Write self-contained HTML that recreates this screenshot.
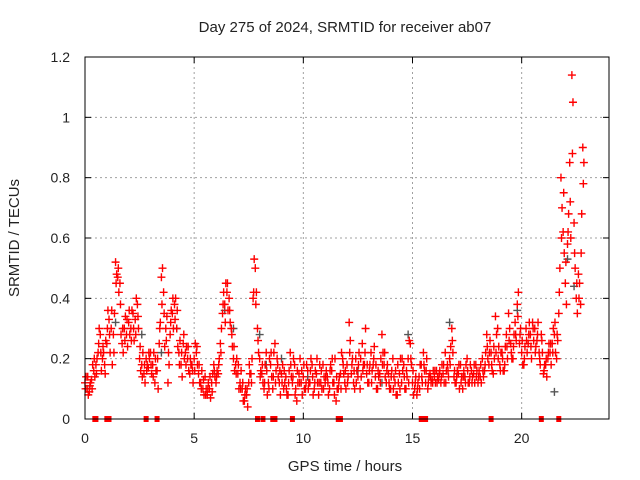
<!DOCTYPE html>
<html><head><meta charset="utf-8"><style>
body{margin:0;background:#fff;}
svg{display:block;font-family:"Liberation Sans",sans-serif;}
</style></head><body>
<svg id="chart" width="640" height="480">
<text x="345" y="32" text-anchor="middle" font-size="15" fill="#222">Day 275 of 2024, SRMTID for receiver ab07</text>
<text x="345" y="471" text-anchor="middle" font-size="15" fill="#222">GPS time / hours</text>
<text transform="translate(19,238) rotate(-90)" text-anchor="middle" font-size="15" fill="#222">SRMTID / TECUs</text>
<g id="grid"></g><g id="marks"></g><g id="axes"></g>
</svg>
<script>
const xTicks=[0,5,10,15,20];
const yTicks=[0,0.2,0.4,0.6,0.8,1,1.2];
const yTickLabels=["0","0.2","0.4","0.6","0.8","1","1.2"];
const hoursA=[0.0,0.1,0.2,0.3,0.4,0.5,0.6,0.7,0.8,0.9,1.0,1.1,1.2,1.3,1.4,1.5,1.6,1.7,1.8,1.9,2.0,2.1,2.2,2.3,2.4,2.5,2.6,2.7,2.8,2.9,3.0,3.1,3.2,3.3,3.4,3.5,3.6,3.7,3.8,3.9,4.0,4.1,4.2,4.3,4.4,4.5,4.6,4.7,4.8,4.9,5.0,5.1,5.2,5.3,5.4,5.5,5.6,5.7,5.8,5.9,6.0,6.1,6.2,6.3,6.4,6.5,6.6,6.7,6.8,6.9,7.0,7.1,7.2,7.3,7.4,7.5,7.6,7.7,7.8,7.9,8.0,8.1,8.2,8.3,8.4,8.5,8.6,8.7,8.8,8.9,9.0,9.1,9.2,9.3,9.4,9.5,9.6,9.7,9.8,9.9,10.0,10.1,10.2,10.3,10.4,10.5,10.6,10.7,10.8,10.9,11.0,11.1,11.2,11.3,11.4,11.5,11.6,11.7,11.8,11.9,12.0,12.1,12.2,12.3,12.4,12.5,12.6,12.7,12.8,12.9,13.0,13.1,13.2,13.3,13.4,13.5,13.6,13.7,13.8,13.9,14.0,14.1,14.2,14.3,14.4,14.5,14.6,14.7,14.8,14.9,15.0,15.1,15.2,15.3,15.4,15.5,15.6,15.7,15.8,15.9,16.0,16.1,16.2,16.3,16.4,16.5,16.6,16.7,16.8,16.9,17.0,17.1,17.2,17.3,17.4,17.5,17.6,17.7,17.8,17.9,18.0,18.1,18.2,18.3,18.4,18.5,18.6,18.7,18.8,18.9,19.0,19.1,19.2,19.3,19.4,19.5,19.6,19.7,19.8,19.9,20.0,20.1,20.2,20.3,20.4,20.5,20.6,20.7,20.8,20.9,21.0,21.1,21.2,21.3,21.4,21.5,21.6,21.7,21.8,21.9,22.0,22.1,22.2,22.3,22.4,22.5,22.6,22.7,22.8];
const valuesA=[0.12,0.10,0.09,0.13,0.16,0.18,0.22,0.28,0.20,0.18,
0.25,0.33,0.30,0.28,0.52,0.47,0.45,0.25,0.30,0.28,
0.32,0.30,0.35,0.33,0.38,0.20,0.18,0.15,0.20,0.17,
0.22,0.18,0.12,0.16,0.25,0.47,0.42,0.30,0.12,0.28,
0.35,0.38,0.30,0.22,0.18,0.25,0.22,0.20,0.15,0.18,
0.20,0.22,0.15,0.12,0.10,0.14,0.08,0.10,0.12,0.18,
0.12,0.15,0.25,0.35,0.38,0.42,0.40,0.30,0.20,0.18,
0.15,0.12,0.10,0.06,0.08,0.12,0.15,0.40,0.50,0.30,
0.20,0.15,0.10,0.22,0.12,0.18,0.10,0.25,0.20,0.12,
0.15,0.10,0.14,0.08,0.22,0.12,0.18,0.06,0.15,0.12,
0.14,0.10,0.16,0.12,0.18,0.10,0.15,0.08,0.12,0.18,
0.12,0.14,0.10,0.16,0.12,0.06,0.10,0.15,0.20,0.12,
0.18,0.32,0.15,0.12,0.20,0.14,0.10,0.25,0.18,0.15,
0.12,0.22,0.18,0.14,0.10,0.15,0.28,0.18,0.12,0.15,
0.10,0.20,0.12,0.08,0.15,0.12,0.18,0.10,0.20,0.25,
0.12,0.10,0.08,0.14,0.18,0.22,0.12,0.10,0.15,0.13,
0.14,0.16,0.13,0.12,0.15,0.22,0.18,0.20,0.30,0.14,
0.12,0.15,0.18,0.10,0.14,0.20,0.12,0.16,0.15,0.18,
0.12,0.14,0.20,0.16,0.28,0.18,0.22,0.15,0.34,0.30,
0.18,0.22,0.16,0.28,0.35,0.25,0.20,0.32,0.38,0.25,
0.22,0.18,0.30,0.25,0.28,0.32,0.30,0.26,0.22,0.28,
0.15,0.18,0.20,0.22,0.25,0.28,0.20,0.35,0.80,0.62,
0.45,0.58,0.85,1.14,0.65,0.40,0.48,0.38,0.90];
const valuesB=[0.14,0.08,0.12,0.18,0.14,0.20,0.30,0.16,0.22,0.26,
0.36,0.22,0.18,0.35,0.48,0.42,0.28,0.22,0.34,0.24,
0.28,0.36,0.26,0.40,0.30,0.16,0.22,0.12,0.18,0.20,
0.15,0.22,0.16,0.10,0.32,0.50,0.24,0.34,0.18,0.36,
0.30,0.40,0.24,0.26,0.14,0.20,0.24,0.16,0.18,0.12,
0.25,0.18,0.12,0.16,0.08,0.10,0.12,0.07,0.15,0.14,
0.16,0.20,0.30,0.42,0.45,0.36,0.32,0.24,0.16,0.20,
0.10,0.16,0.06,0.10,0.04,0.15,0.20,0.53,0.42,0.22,
0.16,0.12,0.18,0.08,0.20,0.14,0.22,0.16,0.14,0.08,
0.18,0.12,0.08,0.16,0.14,0.20,0.10,0.12,0.20,0.08,
0.10,0.18,0.12,0.20,0.08,0.16,0.12,0.18,0.10,0.14,
0.16,0.08,0.18,0.12,0.20,0.10,0.14,0.22,0.15,0.10,
0.14,0.26,0.20,0.10,0.16,0.22,0.14,0.18,0.30,0.12,
0.18,0.16,0.24,0.10,0.14,0.20,0.22,0.14,0.18,0.10,
0.16,0.14,0.08,0.12,0.20,0.16,0.10,0.14,0.26,0.18,
0.08,0.14,0.12,0.18,0.12,0.16,0.20,0.14,0.12,0.16,
0.12,0.14,0.16,0.18,0.12,0.16,0.14,0.24,0.22,0.12,
0.16,0.10,0.14,0.16,0.18,0.12,0.18,0.14,0.12,0.16,
0.16,0.12,0.14,0.22,0.20,0.26,0.16,0.20,0.28,0.24,
0.22,0.16,0.24,0.20,0.30,0.20,0.28,0.26,0.42,0.30,
0.18,0.24,0.22,0.32,0.20,0.26,0.24,0.32,0.18,0.22,
0.18,0.14,0.25,0.18,0.30,0.22,0.26,0.50,0.70,0.55,
0.38,0.68,0.60,1.05,0.50,0.35,0.45,0.68,0.85];
const valuesC=[0.10,0.14,0.11,0.10,0.20,0.15,0.25,0.22,0.24,0.15,
0.30,0.28,0.36,0.22,0.45,0.50,0.38,0.30,0.26,0.33,
0.36,0.26,0.30,0.28,0.34,0.24,0.14,0.18,0.16,0.22,
0.18,0.14,0.20,0.20,0.30,0.38,0.35,0.26,0.22,0.32,
0.40,0.33,0.36,0.18,0.22,0.28,0.18,0.24,0.20,0.16,
0.16,0.24,0.18,0.10,0.13,0.08,0.10,0.14,0.09,0.16,
0.14,0.18,0.22,0.38,0.32,0.45,0.36,0.28,0.24,0.15,
0.18,0.10,0.12,0.08,0.10,0.18,0.12,0.42,0.38,0.26,
0.14,0.18,0.12,0.16,0.10,0.22,0.14,0.12,0.18,0.16,
0.12,0.16,0.10,0.12,0.18,0.14,0.08,0.16,0.12,0.16,
0.18,0.12,0.10,0.16,0.14,0.12,0.20,0.12,0.16,0.10,
0.14,0.12,0.16,0.20,0.08,0.14,0.12,0.10,0.18,0.16,
0.12,0.22,0.18,0.16,0.12,0.18,0.20,0.16,0.22,0.18,
0.16,0.12,0.20,0.18,0.16,0.12,0.18,0.22,0.16,0.12,
0.14,0.10,0.16,0.18,0.10,0.20,0.14,0.16,0.12,0.20,
0.16,0.12,0.10,0.10,0.14,0.18,0.16,0.12,0.14,0.12,
0.16,0.12,0.15,0.14,0.18,0.12,0.16,0.18,0.26,0.16,
0.14,0.18,0.12,0.14,0.12,0.16,0.14,0.12,0.18,0.14,
0.14,0.18,0.16,0.18,0.24,0.22,0.18,0.24,0.22,0.20,
0.16,0.20,0.18,0.24,0.26,0.22,0.24,0.28,0.34,0.28,
0.26,0.20,0.26,0.28,0.24,0.30,0.22,0.28,0.20,0.26,
0.16,0.20,0.22,0.25,0.22,0.32,0.28,0.42,0.60,0.75,
0.52,0.62,0.72,0.88,0.55,0.45,0.40,0.55,0.78];
const hoursGray=[0.2,1.4,2.6,3.5,4.2,6.4,6.8,8.0,8.3,9.0,10.2,12.5,13.6,14.8,16.7,17.4,19.8,21.5,22.1,22.4];
const valuesGray=[0.10,0.32,0.28,0.22,0.30,0.36,0.30,0.28,0.18,0.20,0.14,0.16,0.12,0.28,0.32,0.14,0.36,0.09,0.53,0.44];
const zeroHours=[0.45,0.5,1.0,1.05,1.1,2.8,3.3,7.9,8.15,8.6,8.7,9.5,11.6,11.7,15.4,15.6,18.6,20.9,21.7];

const X0=85,X1=609,Y0=419,Y1=57;
const xs=h=>X0+(h/24)*(X1-X0);
const ys=v=>Y0-(v/1.2)*(Y0-Y1);
const NS="http://www.w3.org/2000/svg";
const grid=document.getElementById('grid'),marks=document.getElementById('marks'),axes=document.getElementById('axes');
function mk(tag,at,parent){const e=document.createElementNS(NS,tag);for(const k in at)e.setAttribute(k,at[k]);parent.appendChild(e);return e;}
xTicks.forEach(t=>{
  if(t>0){const g=mk('line',{x1:xs(t),x2:xs(t),y1:Y0,y2:Y1,stroke:'#a0a0a0','stroke-dasharray':'2,3'},grid);
  
  }
  const tk=mk('text',{x:xs(t),y:Y0+24,'text-anchor':'middle','font-size':'14',fill:'#222'},axes);tk.textContent=String(t);
  
  
  mk('line',{x1:xs(t),x2:xs(t),y1:Y0,y2:Y0-6,stroke:'#000'},axes);
  mk('line',{x1:xs(t),x2:xs(t),y1:Y1,y2:Y1+6,stroke:'#000'},axes);
});
yTicks.forEach((t,i)=>{
  if(t>0){const g=mk('line',{x1:X0,x2:X1,y1:ys(t),y2:ys(t),stroke:'#a0a0a0','stroke-dasharray':'2,3'},grid);
  
  }
  const tk=mk('text',{x:X0-15,y:ys(t)+5,'text-anchor':'end','font-size':'14',fill:'#222'},axes);tk.textContent=yTickLabels[i];
  
  
  mk('line',{x1:X0,x2:X0+6,y1:ys(t),y2:ys(t),stroke:'#000'},axes);
  mk('line',{x1:X1,x2:X1-6,y1:ys(t),y2:ys(t),stroke:'#000'},axes);
});
const frame=mk('rect',{x:X0,y:Y1,width:X1-X0,height:Y0-Y1,fill:'none',stroke:'#000'},axes);


function plus(h,v,c,name){
  const x=xs(h),y=ys(v);
  const p=mk('path',{d:`M${x-4},${y}H${x+4}M${x},${y-4}V${y+4}`,stroke:c,'stroke-width':'1.4',fill:'none'},marks);
  
  
}
hoursGray.forEach((h,i)=>plus(h,valuesGray[i],'#555','gray-point'));
hoursA.forEach((h,i)=>plus(h,valuesA[i],'#f00','srmtid-point'));
hoursA.forEach((h,i)=>{if(i<valuesB.length)plus(h+0.05,valuesB[i],'#f00','srmtid-point-b');});
hoursA.forEach((h,i)=>{if(i<valuesC.length)plus(h+0.025,valuesC[i],'#f00','srmtid-point-c');});
zeroHours.forEach(h=>{
  const r=mk('rect',{x:xs(h)-2.5,y:Y0-3,width:5,height:6,fill:'#f00'},marks);
  
  
});
</script>
</body></html>
